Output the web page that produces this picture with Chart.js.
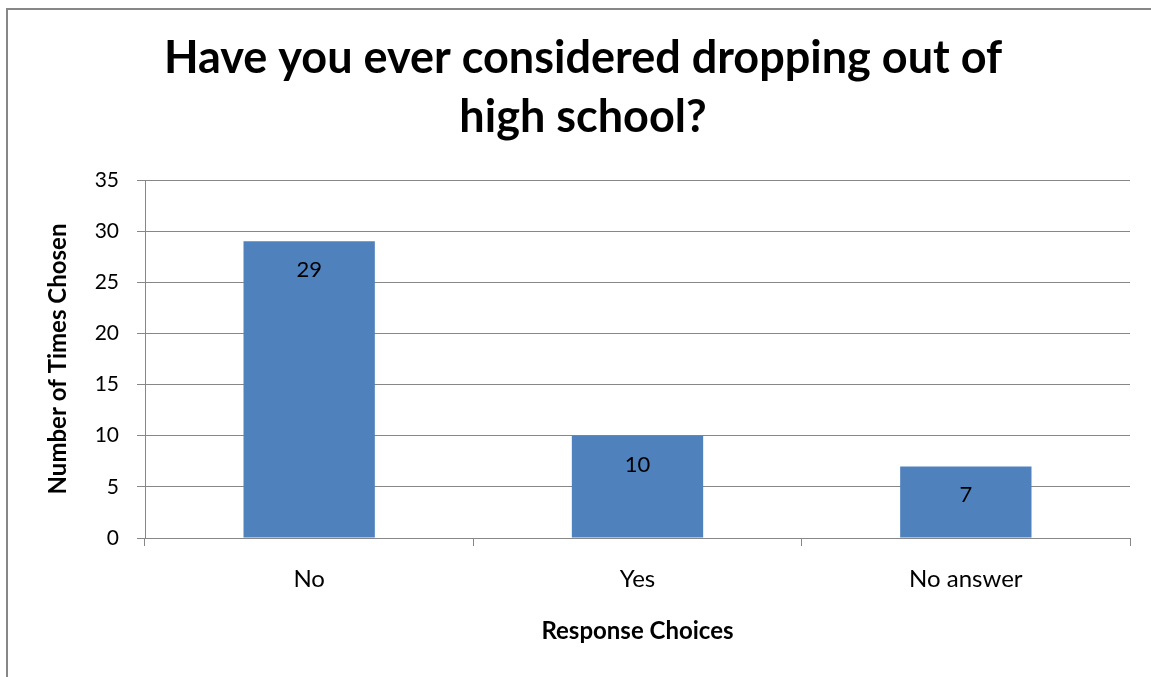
<!DOCTYPE html>
<html>
<head>
<meta charset="utf-8">
<title>Dropping out survey</title>
<script src="https://cdn.jsdelivr.net/npm/chart.js@4.4.1/dist/chart.umd.min.js"></script>
<style>
    html, body { margin: 0; padding: 0; background: #fff; overflow: hidden; }
    #frame {
        position: absolute;
        left: 6px;
        top: 8px;
        width: 1200px;
        height: 720px;
        border-left: 2px solid #878787;
        border-top: 2px solid #878787;
        overflow: hidden;
    }
    #surveyChart { display: block; }
</style>
</head>
<body>
<div id="frame">
    <canvas id="surveyChart" width="1150" height="667"></canvas>
</div>
<script>
// Survey answers
const categories = ['No', 'Yes', 'No answer'];
const timesChosen = [29, 10, 7];
const yTicks = [0, 5, 10, 15, 20, 25, 30, 35];

const titleLines = ['Have you ever considered dropping out of', 'high school?'];
const xTitle = 'Response Choices';
const yTitle = 'Number of Times Chosen';

const gridColor = '#878787';
const barColor = '#4F81BD';

// Value written inside each bar, just under its top edge
const barValueLabels = {
    id: 'barValueLabels',
    afterDatasetsDraw(chart) {
        const ctx = chart.ctx;
        const meta = chart.getDatasetMeta(0);
        ctx.save();
        ctx.font = '22px Lato';
        ctx.fillStyle = '#000';
        ctx.textAlign = 'center';
        ctx.textBaseline = 'middle';
        meta.data.forEach(function(bar, i) {
            ctx.fillText(String(timesChosen[i]), bar.x, bar.y + 29);
        });
        ctx.restore();
    }
};

document.addEventListener('DOMContentLoaded', function() {
    Chart.defaults.font.family = 'Lato';
    Chart.defaults.color = '#000';

    const canvas = document.getElementById('surveyChart');

    new Chart(canvas, {
        type: 'bar',
        data: {
            labels: categories,
            datasets: [{
                data: timesChosen,
                backgroundColor: barColor,
                borderWidth: 0,
                categoryPercentage: 1.0,
                barPercentage: 0.4
            }]
        },
        options: {
            responsive: false,
            animation: false,
            // equal side padding keeps the title centred on the whole canvas
            layout: { padding: { left: 28, right: 28, top: 0, bottom: 0 } },
            plugins: {
                legend: { display: false },
                tooltip: { enabled: false },
                title: {
                    display: true,
                    text: titleLines,
                    color: '#000',
                    font: { size: 45, weight: 'bold', lineHeight: '59px' },
                    padding: { top: 19, bottom: 33 }
                }
            },
            scales: {
                x: {
                    afterFit: function(scale) { scale.height = 139; },
                    grid: {
                        offset: true,
                        drawOnChartArea: false,
                        drawTicks: true,
                        tickLength: 8,
                        color: gridColor
                    },
                    border: { display: true, color: gridColor },
                    ticks: { font: { size: 24 }, padding: 19 },
                    title: {
                        display: true,
                        text: xTitle,
                        font: { size: 24, weight: 'bold' },
                        padding: { top: 0, bottom: 31 }
                    }
                },
                y: {
                    min: 0,
                    max: 35,
                    afterFit: function(scale) { scale.width = 109; },
                    afterBuildTicks: function(scale) {
                        scale.ticks = yTicks.map(function(v) { return { value: v }; });
                    },
                    grid: {
                        color: gridColor,
                        tickLength: 8
                    },
                    border: { display: true, color: gridColor },
                    ticks: { font: { size: 21 }, padding: 18 },
                    title: {
                        display: true,
                        text: yTitle,
                        font: { size: 24, weight: 'bold' },
                        padding: { top: 8, bottom: 0 }
                    }
                }
            }
        },
        plugins: [barValueLabels]
    });
});
</script>
</body>
</html>
